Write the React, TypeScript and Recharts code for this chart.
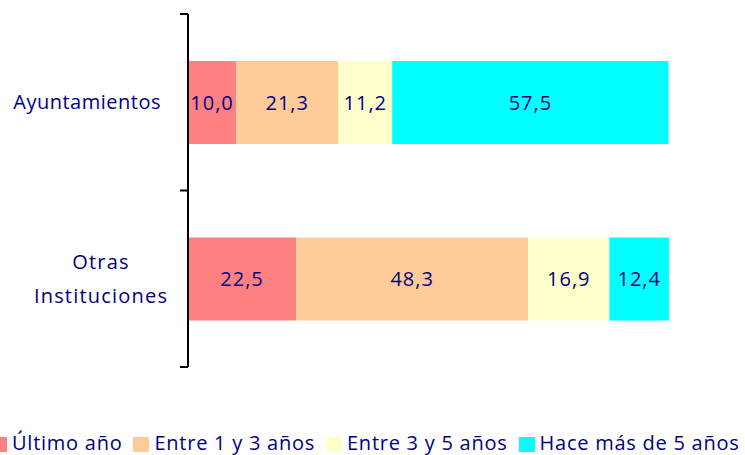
import { BarChart, Bar, XAxis, YAxis, LabelList } from "recharts"

const categories = ["Ayuntamientos", "Otras Instituciones"]
const ultimoAno = [10.0, 22.5]
const entre1y3 = [21.3, 48.3]
const entre3y5 = [11.2, 16.9]
const haceMas5 = [57.5, 12.4]

const seriesNames = ["Último año", "Entre 1 y 3 años", "Entre 3 y 5 años", "Hace más de 5 años"]
const seriesColors = ["#FF8080", "#FFCC99", "#FFFFCC", "#00FFFF"]
const seriesKeys = ["ultimo", "entre1", "entre3", "hace5"]

// tick label line breaks as in the original
const categoryLines: Record<string, string[]> = {
  Ayuntamientos: ["Ayuntamientos"],
  "Otras Instituciones": ["Otras", "Instituciones"],
}

const data = categories.map((name, i) => ({
  name,
  ultimo: ultimoAno[i],
  entre1: entre1y3[i],
  entre3: entre3y5[i],
  hace5: haceMas5[i],
}))

const NAVY = "#000080"
const FONT = "'Open Sans', 'Noto Sans', sans-serif"

const fmt = (v: any) => Number(v).toFixed(1).replace(".", ",")

function CategoryTick(props: any) {
  const { x, y, payload, height, index } = props
  const half = payload?.offset || height / (2 * categories.length)
  const lines = categoryLines[payload.value] || [payload.value]
  const multi = lines.length > 1
  const tx = multi ? x - 79 : x - 19
  return (
    <g>
      {index === 0 && <line x1={x} x2={x + 8} y1={y - half} y2={y - half} stroke="#000" strokeWidth={2} />}
      <line x1={x} x2={x + 8} y1={y + half} y2={y + half} stroke="#000" strokeWidth={2} />
      <text
        x={tx}
        y={y}
        textAnchor={multi ? "middle" : "end"}
        fill={NAVY}
        fontSize={20}
        letterSpacing={multi ? 1.2 : 0.5}
        fontFamily={FONT}
      >
        {lines.map((l, i) => (
          <tspan key={i} x={tx} dy={i === 0 ? 7 - (lines.length - 1) * 17 : 34}>
            {l}
          </tspan>
        ))}
      </text>
    </g>
  )
}

export default function App() {
  return (
    <div style={{ position: "absolute", left: 0, top: 0, width: 745, height: 455, background: "#fff", fontFamily: FONT }}>
      <BarChart
        width={745}
        height={455}
        data={data}
        layout="vertical"
        margin={{ top: 14, right: 76, bottom: 88, left: 0 }}
      >
        <XAxis type="number" domain={[0, 100]} hide />
        <YAxis
          type="category"
          dataKey="name"
          width={188}
          axisLine={{ stroke: "#000", strokeWidth: 2 }}
          tickLine={false}
          tickSize={8}
          tickMargin={0}
          tick={<CategoryTick />}
        />
        {seriesKeys.map((k, i) => (
          <Bar key={k} dataKey={k} stackId="a" fill={seriesColors[i]} barSize={83} isAnimationActive={false}>
            <LabelList
              dataKey={k}
              position="center"
              formatter={fmt}
              fill={NAVY}
              fontSize={20}
              letterSpacing={1}
              fontFamily={FONT}
            />
          </Bar>
        ))}
      </BarChart>
      <div
        style={{
          position: "absolute",
          left: -9,
          top: 429,
          display: "flex",
          alignItems: "center",
          whiteSpace: "nowrap",
          fontSize: 20,
          letterSpacing: 0.75,
          color: NAVY,
        }}
      >
        {seriesNames.map((n, i) => (
          <div key={n} style={{ display: "flex", alignItems: "center", marginRight: 11 }}>
            <span style={{ width: 16, height: 15, background: seriesColors[i], marginRight: 5, marginTop: 4, display: "inline-block" }} />
            <span>{n}</span>
          </div>
        ))}
      </div>
    </div>
  )
}
